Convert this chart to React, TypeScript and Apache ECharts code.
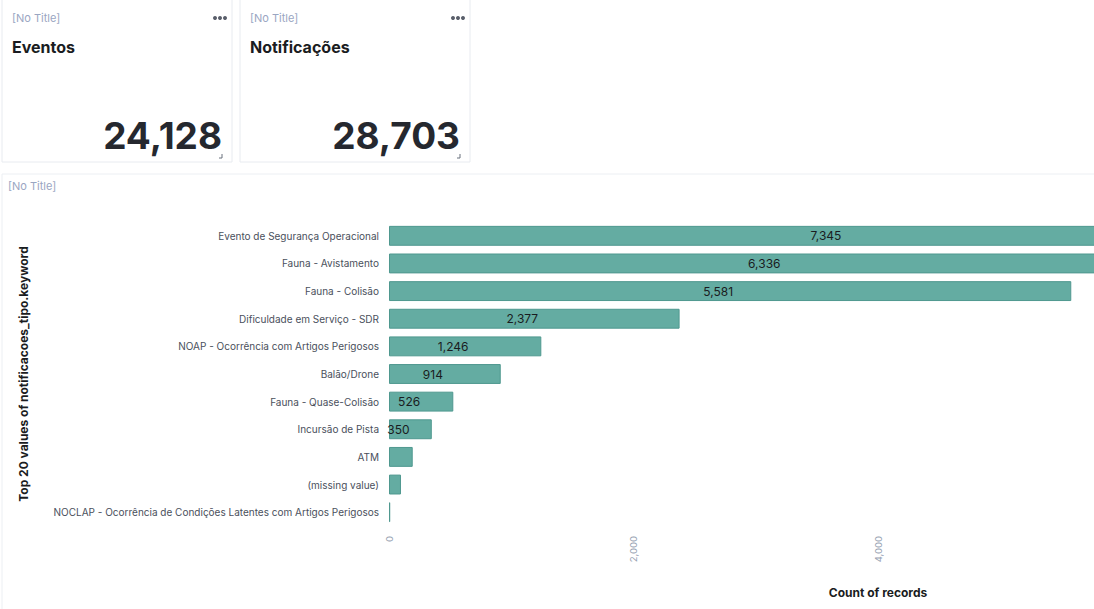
import React, { useEffect, useRef } from "react";
import * as echarts from "echarts";

const categories = [
  "Evento de Segurança Operacional",
  "Fauna - Avistamento",
  "Fauna - Colisão",
  "Dificuldade em Serviço - SDR",
  "NOAP - Ocorrência com Artigos Perigosos",
  "Balão/Drone",
  "Fauna - Quase-Colisão",
  "Incursão de Pista",
  "ATM",
  "(missing value)",
  "NOCLAP - Ocorrência de Condições Latentes com Artigos Perigosos",
];
const counts = [7345, 6336, 5581, 2377, 1246, 914, 526, 350, 194, 98, 10];

const metricTitles = ["Eventos", "Notificações"];
const metricValues = [24128, 28703];
const panelTitle = "[No Title]";
const xAxisName = "Count of records";
const yAxisName = "Top 20 values of notificacoes_tipo.keyword";
const xTickStep = 2000;
const xMax = 8000;
const xVisibleTickMax = 4000;

const FONT = "Inter, 'Noto Sans', sans-serif";
const fmt = (v: number) => v.toLocaleString("en-US");

export default function App() {
  const ref = useRef<HTMLDivElement>(null);
  useEffect(() => {
    if (!ref.current) return;
    const chart = echarts.init(ref.current, undefined, { renderer: "svg" });

    const panelX = [2, 240];
    const panelW = 230;
    const graphics: any[] = [];
    metricTitles.forEach((t, i) => {
      const x0 = panelX[i];
      graphics.push(
        {
          type: "rect",
          shape: { x: x0, y: -2, width: panelW, height: 164 },
          style: { fill: "#ffffff", stroke: "#e8ebf0", lineWidth: 1 },
          z: 0,
        },
        {
          type: "text",
          x: x0 + 10,
          y: 18,
          style: { text: panelTitle, fill: "#9aa6c2", font: `11px ${FONT}`, verticalAlign: "middle" },
        },
        {
          type: "text",
          x: x0 + 10,
          y: 47,
          style: { text: t, fill: "#1a1c21", font: `bold 16px ${FONT}`, verticalAlign: "middle" },
        },
        {
          type: "text",
          x: x0 + panelW - 10,
          y: 135,
          style: {
            text: fmt(metricValues[i]),
            fill: "#25282f",
            font: `bold 37px ${FONT}`,
            align: "right",
            verticalAlign: "middle",
          },
        },
        { type: "circle", shape: { cx: x0 + panelW - 17, cy: 18, r: 2 }, style: { fill: "#5a5f6b" } },
        { type: "circle", shape: { cx: x0 + panelW - 12, cy: 18, r: 2 }, style: { fill: "#5a5f6b" } },
        { type: "circle", shape: { cx: x0 + panelW - 7, cy: 18, r: 2 }, style: { fill: "#5a5f6b" } },
        {
          type: "polyline",
          shape: { points: [[x0 + panelW - 13, 158], [x0 + panelW - 10, 158], [x0 + panelW - 10, 154]] },
          style: { stroke: "#69707d", lineWidth: 1, fill: "none" },
        }
      );
    });
    graphics.push(
      {
        type: "rect",
        shape: { x: 2, y: 174, width: 1390, height: 440 },
        style: { fill: "#ffffff", stroke: "#eceff3", lineWidth: 1 },
        z: 0,
      },
      {
        type: "text",
        x: 8,
        y: 186,
        style: { text: panelTitle, fill: "#9aa6c2", font: `11px ${FONT}`, verticalAlign: "middle" },
      }
    );

    chart.setOption({
      animation: false,
      backgroundColor: "#ffffff",
      textStyle: { fontFamily: FONT },
      graphic: { elements: graphics },
      grid: { left: 389, top: 222, width: 978, height: 304, containLabel: false },
      xAxis: {
        type: "value",
        min: 0,
        max: xMax,
        interval: xTickStep,
        name: xAxisName,
        nameLocation: "middle",
        nameGap: 60,
        nameTextStyle: { fontFamily: FONT, fontWeight: "bold", fontSize: 12, color: "#1a1c21" },
        axisLine: { show: false },
        axisTick: { show: false },
        splitLine: { show: false },
        axisLabel: {
          rotate: 90,
          margin: 10,
          color: "#98a2b3",
          fontSize: 9.5,
          fontFamily: FONT,
          formatter: (v: number) => (v <= xVisibleTickMax ? fmt(v) : ""),
        },
      },
      yAxis: {
        type: "category",
        data: categories,
        inverse: true,
        name: yAxisName,
        nameLocation: "middle",
        nameRotate: 90,
        nameGap: 360,
        nameTextStyle: { fontFamily: FONT, fontWeight: "bold", fontSize: 12, color: "#1a1c21" },
        axisLine: { show: false },
        axisTick: { show: false },
        axisLabel: { margin: 10, color: "#4a505c", fontSize: 10, fontFamily: FONT },
      },
      series: [
        {
          type: "bar",
          data: counts,
          barCategoryGap: "28%",
          itemStyle: { color: "#64aca2", borderColor: "#4f988f", borderWidth: 1 },
          label: {
            show: true,
            position: "inside",
            offset: [-12, 0],
            color: "#1a1c21",
            fontSize: 12,
            fontFamily: FONT,
            formatter: (p: any) => (p.value >= 300 ? fmt(p.value) : ""),
          },
        },
      ],
    });
    return () => chart.dispose();
  }, []);

  return (
    <div
      style={{
        position: "fixed",
        left: 0,
        top: 0,
        width: 1094,
        height: 609,
        overflow: "hidden",
        background: "#ffffff",
      }}
    >
      <div ref={ref} style={{ width: 1400, height: 609 }} />
    </div>
  );
}
